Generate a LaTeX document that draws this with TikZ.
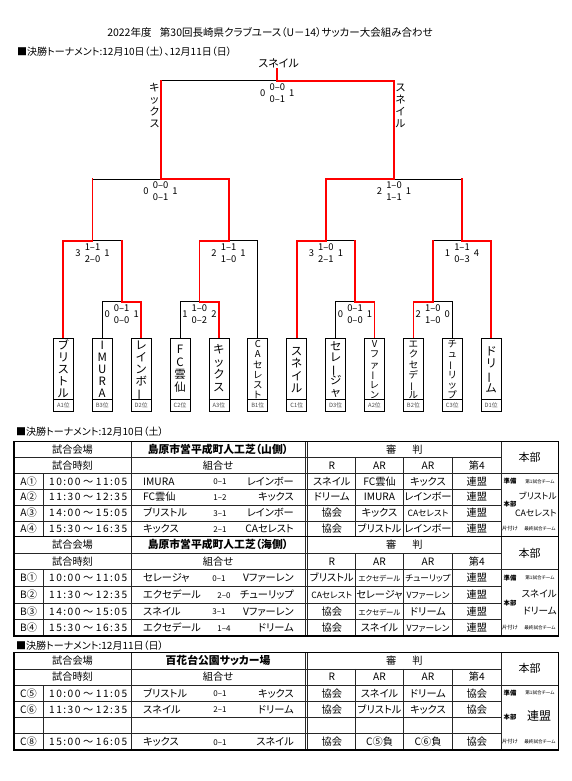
\documentclass[tikz,border=0pt]{standalone}
\usepackage{fontspec}
\setmainfont{Noto Sans CJK JP}[RawFeature=+palt]
\newcommand\vb{\rotatebox[origin=c]{90}{ー}}
\newcommand\fsz[1]{\fontsize{#1}{#1}\selectfont}
\newcommand\sm[1]{{\fsz{7.4}#1}}
\newcommand\smm[1]{{\fsz{8.6}#1}}
\newcommand\dg[1]{\makebox[7.3pt]{#1}}
\newcommand\tmx[8]{\dg{#1}\dg{#2}\makebox[4pt]{:}\dg{#3}\dg{#4}\makebox[13.6pt]{～}\dg{#5}\dg{#6}\makebox[4pt]{:}\dg{#7}\dg{#8}}
\newcommand\vname[6]{\foreach \vchar [count=\kk] in {#6} {\node[#2] (#1-\kk) at (#3,{#4+(\kk-1)*#5}) {\vchar};}}
\newcommand\mscore[7]{%
  \node[sc] (#1-l) at (#2-14.5,#3+12.5) {#4};
  \node[sc] (#1-a) at (#2,#3+6.5) {#5};
  \node[sc] (#1-b) at (#2,#3+18.5) {#6};
  \node[sc] (#1-r) at (#2+14.5,#3+12.5) {#7};}
\newcommand\tgrid[7]{%
  \draw[tbl] (14,#2) -- (501,#2);
  \draw[tbl] (14,#3) -- (558.3,#3);
  \draw[tbl] (14,#4) -- (501,#4);
  \draw[tbl] (14,#5) -- (501,#5);
  \draw[tbl] (14,#6) -- (501,#6);
  \draw[tbl] (43.3,#3) -- (43.3,#7);
  \draw[tbl] (131,#1) -- (131,#7);
  \draw[tbl] (305,#1) -- (305,#7);
  \draw[tbl] (307.8,#1) -- (307.8,#7);
  \draw[tbl] (355.7,#2) -- (355.7,#7);
  \draw[tbl] (403.3,#2) -- (403.3,#7);
  \draw[tbl] (452.7,#2) -- (452.7,#7);
  \draw[tbl] (501,#1) -- (501,#7);
  \draw[tframe] (14,#1) rectangle (558.3,#7);}
\tikzset{
  rl/.style={draw=red, line width=1.8pt, line cap=rect},
  bl/.style={draw=black, line width=0.9pt},
  boxs/.style={draw=black, line width=0.8pt},
  sc/.style={font=\fsz{9.4}, inner sep=0pt, text height=7pt, text depth=0.2pt},
  vn/.style={font=\fsz{11.5}, inner sep=0pt, text height=9.2pt, text depth=0.4pt},
  vns/.style={font=\fsz{9.5}, inner sep=0pt, text height=7.6pt, text depth=0.3pt},
  vfl/.style={font=\fsz{10.5}, inner sep=0pt, text height=8.4pt, text depth=0.4pt},
  rk/.style={font=\fsz{5.8}, inner sep=0pt, text=black!70},
  tx/.style={font=\fsz{10.2}, inner sep=0pt, text height=8pt, text depth=0.4pt},
  tt/.style={font=\fsz{10.5}, inner sep=0pt, text height=8.2pt, text depth=0.4pt},
  hd/.style={font=\fsz{10}, inner sep=0pt, text height=7.8pt, text depth=0.4pt},
  hb/.style={font=\bfseries\fsz{6.3}, inner sep=0pt},
  hs/.style={font=\fsz{4.6}, inner sep=0pt},
  tbl/.style={draw=black!85, line width=0.7pt},
  tframe/.style={draw=black, line width=1.2pt},
}
\begin{document}
\begin{tikzpicture}[x=1pt,y=-1pt]
\fill[white] (0,0) rectangle (571,781);
\useasboundingbox (0,0) rectangle (571,781);
% titles
\node[tt] (title) at (270,32.7) {2022年度\hspace{0.8em}第30回長崎県クラブユース（U－14）サッカー大会組み合わせ};
\node[hd,anchor=west] (head1) at (17,51.7) {■決勝トーナメント:12月10日（土）、12月11日（日）};
\node[font=\fsz{11}, inner sep=0pt] (champ) at (278.6,63.3) {スネイル};
% coordinates
\coordinate (b1) at (63.3,338.3);
\coordinate (b2) at (102.2,338.3);
\coordinate (b3) at (141.1,338.3);
\coordinate (b4) at (180,338.3);
\coordinate (b5) at (218.9,338.3);
\coordinate (b6) at (257.8,338.3);
\coordinate (b7) at (296.7,338.3);
\coordinate (b8) at (335.6,338.3);
\coordinate (b9) at (374.5,338.3);
\coordinate (b10) at (413.4,338.3);
\coordinate (b11) at (452.3,338.3);
\coordinate (b12) at (491.2,338.3);
\coordinate (ja) at (121.65,301.7);
\coordinate (jb) at (199.45,301.7);
\coordinate (jc) at (355,301.7);
\coordinate (jd) at (432.85,301.7);
\coordinate (q1) at (92.5,240.7);
\coordinate (q2) at (228.6,240.7);
\coordinate (q3) at (325.9,240.7);
\coordinate (q4) at (462,240.7);
\coordinate (s1) at (160.6,179);
\coordinate (s2) at (394,179);
\coordinate (fn) at (277.3,80.7);
\coordinate (ch) at (277.3,69.3);
% black lines
\draw[bl] (b2) |- (ja);
\draw[bl] (b4) |- (jb);
\draw[bl] (b8) |- (jc);
\draw[bl] (b11) |- (jd);
\draw[bl] (b6) |- (q2);
\draw[bl] (ja |- q1) -- (q1);
\draw[bl] (jc |- q3) -- (q3);
\draw[bl] (jd |- q4) -- (q4);
\draw[bl] (q1 |- s1) -- (s1);
\draw[bl] (q4 |- s2) -- (s2);
\draw[bl] (s1 |- fn) -- (fn);
% red lines
\draw[rl] (b3) |- (ja);
\draw[rl] (b5) |- (jb);
\draw[rl] (b9) |- (jc);
\draw[rl] (b10) |- (jd);
\draw[rl] (b1) |- (q1);
\draw[rl] (ja) -- (ja |- q1);
\draw[rl] (jb) |- (q2);
\draw[rl] (b7) |- (q3);
\draw[rl] (jc) -- (jc |- q3);
\draw[rl] (jd) -- (jd |- q4);
\draw[rl] (b12) |- (q4);
\draw[rl] (q1) -- (q1 |- s1);
\draw[rl] (q2) |- (s1);
\draw[rl] (q3) |- (s2);
\draw[rl] (q4) -- (q4 |- s2);
\draw[rl] (s1) -- (s1 |- fn);
\draw[rl] (s2) |- (fn);
\draw[rl] (fn) -- (ch);
% scores
\mscore{sf}{277.3}{80.7}{0}{0–0}{0–1}{1}
\mscore{ss1}{160.6}{179}{0}{0–0}{0–1}{1}
\mscore{ss2}{394}{179}{2}{1–0}{1–1}{1}
\mscore{sq1}{92.5}{240.7}{3}{1–1}{2–0}{1}
\mscore{sq2}{228.6}{240.7}{2}{1–1}{1–0}{1}
\mscore{sq3}{325.9}{240.7}{3}{1–0}{2–1}{1}
\mscore{sq4}{462}{240.7}{1}{1–1}{0–3}{4}
\mscore{sja}{121.65}{301.7}{0}{0–1}{0–0}{1}
\mscore{sjb}{199.45}{301.7}{1}{1–0}{0–2}{2}
\mscore{sjc}{355}{301.7}{0}{0–1}{0–0}{1}
\mscore{sjd}{432.85}{301.7}{2}{1–0}{1–0}{0}
% finalists
\vname{kl}{vfl}{154.5}{87.5}{12}{キ,ッ,ク,ス}
\vname{sr}{vfl}{400.5}{87.5}{12}{ス,ネ,イ,ル}
% boxes
\foreach \x/\rnk [count=\i] in {63.3/A1位,102.2/B3位,141.1/D2位,180/C2位,218.9/A3位,257.8/B1位,296.7/C1位,335.6/D3位,374.5/A2位,413.4/B2位,452.3/C3位,491.2/D1位}{
  \draw[boxs] (\x-10,338.3) rectangle (\x+10,411);
  \draw[boxs] (\x-10,399.5) -- (\x+10,399.5);
  \node[rk] (rk\i) at (\x,405.3) {\rnk};
}
\vname{n1}{vn}{63.3}{345}{12}{ブ,リ,ス,ト,ル}
\vname{n2}{vn}{102.2}{345}{12}{I,M,U,R,A}
\vname{n3}{vn}{141.1}{345}{12}{レ,イ,ン,ボ,\vb}
\vname{n4}{vn}{180}{349.5}{12.5}{F,C,雲,仙}
\vname{n5}{vn}{218.9}{349.5}{12.5}{キ,ッ,ク,ス}
\vname{n6}{vns}{257.8}{344}{10.2}{C,A,セ,レ,ス,ト}
\vname{n7}{vn}{296.7}{351}{12.3}{ス,ネ,イ,ル}
\vname{n8}{vn}{335.6}{346}{11.5}{セ,レ,\vb,ジ,ャ}
\vname{n9}{vns}{374.5}{344}{10.2}{V,フ,ァ,\vb,レ,ン}
\vname{n10}{vns}{413.4}{344}{10.2}{エ,ク,セ,デ,\vb,ル}
\vname{n11}{vns}{452.3}{344}{10.2}{チ,ュ,\vb,リ,ッ,プ}
\vname{n12}{vn}{491.2}{351}{12.3}{ド,リ,\vb,ム}
% tables
\node[hd,anchor=west] (head2) at (16,431.7) {■決勝トーナメント:12月10日（土）};
\node[hd,anchor=west] (head3) at (16,645.5) {■決勝トーナメント:12月11日（日）};
\tgrid{441.7}{457.5}{473.4}{489.2}{505.0}{520.9}{536.7}
\tgrid{536.7}{553.3}{569.8}{586.4}{602.9}{619.5}{636.0}
\tgrid{652.7}{668.9}{685.1}{701.3}{717.5}{733.7}{749.9}
\foreach \ya/\yb/\ym/\ven/\tid in {449.6/465.45/457.55/島原市営平成町人工芝（山側）/A,545/561.55/553.3/島原市営平成町人工芝（海側）/B,660.8/677/668.9/百花台公園サッカー場/C}{
  \node[tx] (h\tid-1) at (72.5,\ya) {試合会場};
  \node[tx,font=\bfseries\fsz{10.8}] (h\tid-2) at (218,\ya) {\ven};
  \node[tx] (h\tid-3) at (404.4,\ya) {審\hspace{16pt}判};
  \node[tx,font=\fsz{11}] (h\tid-4) at (529.65,\ym) {本部};
  \node[tx] (h\tid-5) at (72.5,\yb) {試合時刻};
  \node[tx] (h\tid-6) at (218,\yb) {組合せ};
  \node[tx] (h\tid-7) at (331.75,\yb) {R};
  \node[tx] (h\tid-8) at (379.5,\yb) {AR};
  \node[tx] (h\tid-9) at (428,\yb) {AR};
  \node[tx] (h\tid-10) at (476.85,\yb) {第4};
}
\foreach \yy/\lab/\tim/\tma/\sx/\scr/\tmb/\rf/\ara/\arb/\fo [count=\i] in {
 481.3/A①/\tmx10001105/IMURA/220/0–1/レインボー/スネイル/FC雲仙/キックス/連盟,
 497.1/A②/\tmx11301235/FC雲仙/220/1–2/キックス/ドリーム/IMURA/レインボー/連盟,
 512.95/A③/\tmx14001505/ブリストル/220/3–1/レインボー/協会/キックス/\smm{CAセレスト}/連盟,
 528.8/A④/\tmx15301635/キックス/220/2–1/CAセレスト/協会/ブリストル/レインボー/連盟,
 578.1/B①/\tmx10001105/セレージャ/219/0–1/Vファーレン/ブリストル/\sm{エクセデール}/\smm{チューリップ}/連盟,
 594.65/B②/\tmx11301235/エクセデール/224/2–0/チューリップ/\smm{CAセレスト}/セレージャ/\smm{Vファーレン}/連盟,
 611.2/B③/\tmx14001505/スネイル/219/3–1/Vファーレン/協会/\sm{エクセデール}/ドリーム/連盟,
 627.75/B④/\tmx15301635/エクセデール/224/1–4/ドリーム/協会/スネイル/\smm{Vファーレン}/連盟,
 693.2/C⑤/\tmx10001105/ブリストル/220/0–1/キックス/協会/スネイル/ドリーム/協会,
 709.4/C⑥/\tmx11301235/スネイル/220/2–1/ドリーム/協会/ブリストル/キックス/協会,
 741.8/C⑧/\tmx15001605/キックス/220/0–1/スネイル/協会/C⑤負/C⑥負/協会}{
  \node[tx] (r\i-1) at (28.5,\yy) {\lab};
  \node[tx,anchor=west] (r\i-2) at (48,\yy) {\tim};
  \node[tx,anchor=west] (r\i-3) at (143,\yy) {\tma};
  \node[sc,font=\fsz{8}] (r\i-4) at (\sx,\yy) {\scr};
  \node[tx,anchor=east] (r\i-5) at (294,\yy) {\tmb};
  \node[tx] (r\i-6) at (331.75,\yy) {\rf};
  \node[tx] (r\i-7) at (379.5,\yy) {\ara};
  \node[tx] (r\i-8) at (428,\yy) {\arb};
  \node[tx] (r\i-9) at (476.85,\yy) {\fo};
}
% honbu column
\foreach \ya/\yc/\tid in {481.3/528.8/A,578.1/627.75/B,693.2/741.8/C}{
  \node[hb] (p\tid-1) at (510,\ya) {準備};
  \node[hs] (p\tid-2) at (540,\ya) {第1試合チーム};
  \node[hb,font=\fsz{5.3}] (p\tid-3) at (510,\yc) {片付け};
  \node[hs] (p\tid-4) at (540,\yc) {最終試合チーム};
}
\node[hb] (pA-5) at (510,504.5) {本部};
\node[tx,font=\fsz{8.8},anchor=east] (pA-6) at (557,496) {ブリストル};
\node[tx,font=\fsz{8.8},anchor=east] (pA-7) at (557,512.7) {CAセレスト};
\node[hb] (pB-5) at (510,603) {本部};
\node[tx,font=\fsz{9.6},anchor=east] (pB-6) at (557,593.3) {スネイル};
\node[tx,font=\fsz{9.6},anchor=east] (pB-7) at (557,610.7) {ドリーム};
\node[hb] (pC-5) at (510,717) {本部};
\node[tx,font=\fsz{12}] (pC-6) at (539,716.7) {連盟};
\end{tikzpicture}
\end{document}
